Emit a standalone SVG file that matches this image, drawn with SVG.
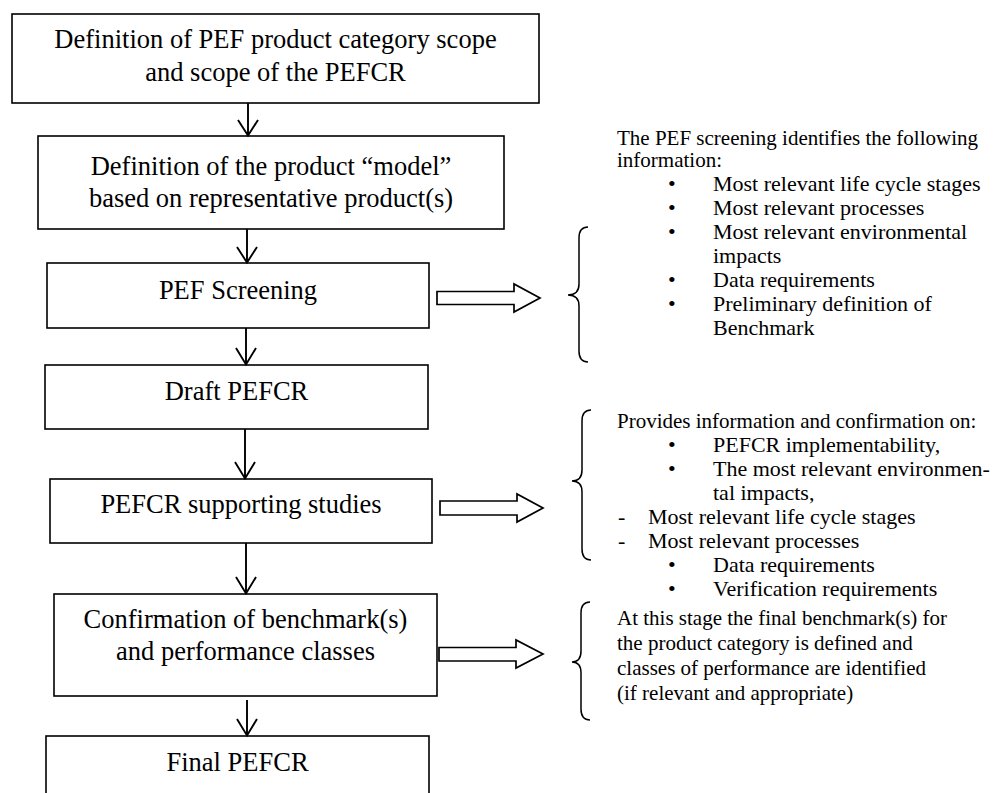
<svg xmlns="http://www.w3.org/2000/svg" width="1002" height="793" viewBox="0 0 1002 793">
<style>
.box{fill:#fff;stroke:#000;stroke-width:1.6}
.bt{font-family:"Liberation Serif","Times New Roman",serif;font-size:26.5px;fill:#000;text-anchor:middle}
.st{font-family:"Liberation Serif","Times New Roman",serif;font-size:21px;fill:#000}
.bl{font-family:"Liberation Serif","Times New Roman",serif;font-size:22px;fill:#000}
.conn{fill:none;stroke:#000;stroke-width:1.9}
.hollow{fill:#fff;stroke:#000;stroke-width:1.7;stroke-linejoin:miter}
.brace{fill:none;stroke:#000;stroke-width:1.5}
</style>
<rect width="1002" height="793" fill="#fff"/>

<g id="n1"><rect class="box" x="12" y="14" width="527" height="89"/>
<text class="bt" x="275.5" y="48">Definition of PEF product category scope</text>
<text class="bt" x="275.5" y="81">and scope of the PEFCR</text></g>

<g id="n2"><rect class="box" x="38" y="136" width="466" height="93"/>
<text class="bt" x="271" y="175">Definition of the product “model”</text>
<text class="bt" x="271" y="207">based on representative product(s)</text></g>

<g id="n3"><rect class="box" x="47" y="263" width="382" height="65"/>
<text class="bt" x="238" y="299">PEF Screening</text></g>

<g id="n4"><rect class="box" x="45" y="365" width="383" height="64"/>
<text class="bt" x="236.5" y="400">Draft PEFCR</text></g>

<g id="n5"><rect class="box" x="50" y="479" width="382" height="64"/>
<text class="bt" x="241" y="513">PEFCR supporting studies</text></g>

<g id="n6"><rect class="box" x="54" y="594" width="383" height="102"/>
<text class="bt" x="245.5" y="628">Confirmation of benchmark(s)</text>
<text class="bt" x="245.5" y="660">and performance classes</text></g>

<g id="n7"><rect class="box" x="46" y="736" width="383" height="70"/>
<text class="bt" x="237.5" y="771">Final PEFCR</text></g>

<g id="connectors">
<path class="conn" d="M248,103 V135.5 M238,120 L248,135.5 L258,120"/>
<path class="conn" d="M247,229 V262.5 M237,247 L247,262.5 L257,247"/>
<path class="conn" d="M246,328 V364.5 M236,348 L246,364.5 L256,348"/>
<path class="conn" d="M245,429 V478.5 M235,462 L245,478.5 L255,462"/>
<path class="conn" d="M246,543 V593.5 M236,577 L246,593.5 L256,577"/>
<path class="conn" d="M247,700 V735.5 M237,719 L247,735.5 L257,719"/>
<polygon class="hollow" points="437,291.5 514,291.5 514,284 540,298 514,312 514,304.5 437,304.5"/>
<polygon class="hollow" points="440,501 517,501 517,494 543,508 517,522 517,515 440,515"/>
<polygon class="hollow" points="439,647.5 516,647.5 516,640 543,654 516,668 516,661 439,661"/>
</g>

<g id="note1">
<path class="brace" d="M588,227 Q579,227 579,238 L579,284 Q579,295 568,295 Q579,295 579,306 L579,351 Q579,362 588,362"/>
<text class="st" x="617" y="145">The PEF screening identifies the following</text>
<text class="st" x="617" y="167">information:</text>
<text class="bl" x="668" y="191">•</text><text class="bl" x="713" y="191">Most relevant life cycle stages</text>
<text class="bl" x="668" y="215">•</text><text class="bl" x="713" y="215">Most relevant processes</text>
<text class="bl" x="668" y="239">•</text><text class="bl" x="713" y="239">Most relevant environmental</text>
<text class="bl" x="713" y="263">impacts</text>
<text class="bl" x="668" y="287">•</text><text class="bl" x="713" y="287">Data requirements</text>
<text class="bl" x="668" y="311">•</text><text class="bl" x="713" y="311">Preliminary definition of</text>
<text class="bl" x="713" y="335">Benchmark</text>
</g>

<g id="note2">
<path class="brace" d="M591,410 Q582,410 582,421 L582,470 Q582,481 572,481 Q582,481 582,492 L582,549 Q582,560 591,560"/>
<text class="st" x="617" y="428">Provides information and confirmation on:</text>
<text class="bl" x="668" y="452">•</text><text class="bl" x="713" y="452">PEFCR implementability,</text>
<text class="bl" x="668" y="476">•</text><text class="bl" x="713" y="476">The most relevant environmen-</text>
<text class="bl" x="713" y="500">tal impacts,</text>
<text class="bl" x="618" y="524">-</text><text class="bl" x="648" y="524">Most relevant life cycle stages</text>
<text class="bl" x="618" y="548">-</text><text class="bl" x="648" y="548">Most relevant processes</text>
<text class="bl" x="668" y="572">•</text><text class="bl" x="713" y="572">Data requirements</text>
<text class="bl" x="668" y="596">•</text><text class="bl" x="713" y="596">Verification requirements</text>
</g>

<g id="note3">
<path class="brace" d="M590,602 Q581,602 581,613 L581,651 Q581,662 572,662 Q581,662 581,673 L581,709 Q581,720 590,720"/>
<text class="st" x="617" y="625">At this stage the final benchmark(s) for</text>
<text class="st" x="617" y="650">the product category is defined and</text>
<text class="st" x="617" y="675">classes of performance are identified</text>
<text class="st" x="617" y="700">(if relevant and appropriate)</text>
</g>
</svg>
